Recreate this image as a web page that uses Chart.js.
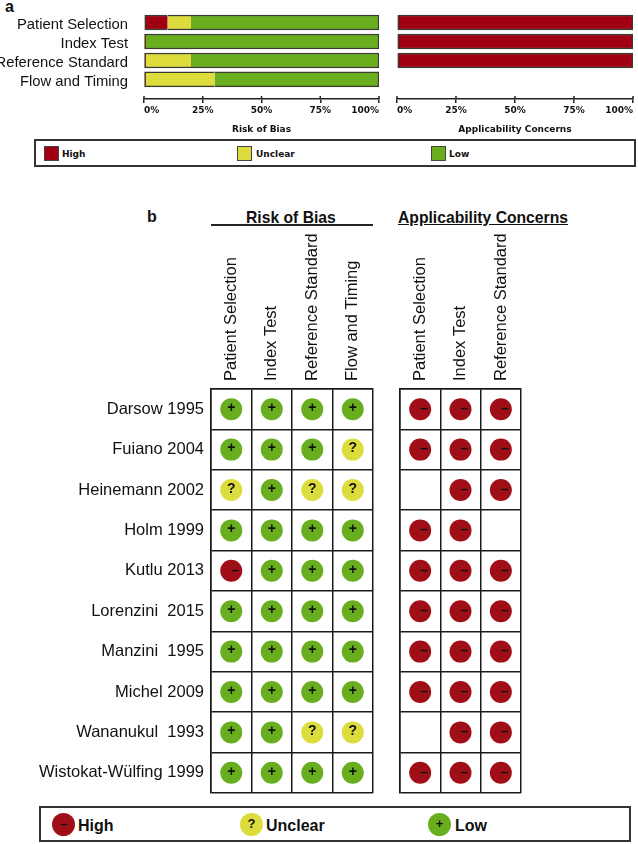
<!DOCTYPE html>
<html>
<head>
<meta charset="utf-8">
<title>Risk of bias summary</title>
<script src="https://cdn.jsdelivr.net/npm/chart.js@4/dist/chart.umd.min.js"></script>
<style>
  html, body { margin: 0; padding: 0; background: #fff; }
  #page { position: relative; width: 638px; height: 844px; overflow: hidden; font-family: "Liberation Sans", Arial, sans-serif; color: #111; }
  #page canvas { position: absolute; }
  .txt { position: absolute; white-space: pre; line-height: 1; }
  .panel { font-weight: bold; font-size: 16px; }
  .head { font-weight: bold; font-size: 15.7px; }
  .box { position: absolute; box-sizing: border-box; border: 2px solid #333; }
  .swatch { position: absolute; box-sizing: border-box; width: 15px; height: 15px; border: 1.5px solid #444; }
  .dot { position: absolute; width: 23px; height: 23px; border-radius: 50%; text-align: center; font: bold 13px/21px "Liberation Sans", Arial, sans-serif; }
  .lega { font: bold 9px "DejaVu Sans", sans-serif; }
  .legb { font: bold 16px "Liberation Sans", sans-serif; }
</style>
</head>
<body>
<div id="page">
  <div class="txt panel" style="left:5px;top:-1px">a</div>
  <canvas id="barsBias" width="385" height="137" style="left:0;top:0"></canvas>
  <canvas id="barsConcern" width="253" height="137" style="left:385px;top:0"></canvas>

  <div class="box" style="left:34px;top:139px;width:602px;height:28px"></div>
  <div class="swatch" style="left:44px;top:146px;background:#a00012"></div>
  <div class="txt lega" style="left:62px;top:149px">High</div>
  <div class="swatch" style="left:237px;top:146px;background:#dcdc3c"></div>
  <div class="txt lega" style="left:256px;top:149px">Unclear</div>
  <div class="swatch" style="left:431px;top:146px;background:#68ae1e"></div>
  <div class="txt lega" style="left:449px;top:149px">Low</div>

  <div class="txt panel" style="left:147px;top:209px">b</div>
  <div class="txt head" style="left:246px;top:210px">Risk of Bias</div>
  <div style="position:absolute;left:211px;top:224px;width:162px;height:2px;background:#222"></div>
  <div class="txt head" style="left:398px;top:210px;text-decoration:underline">Applicability Concerns</div>
  <canvas id="gridBias" width="380" height="572" style="left:0;top:228px"></canvas>
  <canvas id="gridConcern" width="258" height="572" style="left:380px;top:228px"></canvas>

  <div class="box" style="left:39px;top:806px;width:592px;height:36px"></div>
  <div class="dot" style="left:52px;top:813px;background:#a00f18;color:#111">&#8211;</div>
  <div class="txt legb" style="left:78px;top:817px">High</div>
  <div class="dot" style="left:240px;top:813px;background:#dcdc3c;color:#111">?</div>
  <div class="txt legb" style="left:266px;top:817px">Unclear</div>
  <div class="dot" style="left:428px;top:813px;background:#68ae1e;color:#111">+</div>
  <div class="txt legb" style="left:455px;top:817px">Low</div>
</div>
<script>
const domains = ["Patient Selection", "Index Test", "Reference Standard", "Flow and Timing"];
const concernDomains = ["Patient Selection", "Index Test", "Reference Standard"];
const studies = ["Darsow 1995", "Fuiano 2004", "Heinemann 2002", "Holm 1999", "Kutlu 2013",
  "Lorenzini  2015", "Manzini  1995", "Michel 2009", "Wananukul  1993", "Wistokat-Wülfing 1999"];

// percent of studies per domain
const biasHigh = [10, 0, 0, 0];
const biasUnclear = [10, 0, 20, 30];
const biasLow = [80, 100, 80, 70];
const concernHigh = [100, 100, 100];
const concernUnclear = [0, 0, 0];
const concernLow = [0, 0, 0];
const percentTicks = [0, 25, 50, 75, 100];

// one row per study, "" means the cell is blank
const biasCells = [
  ["+", "+", "+", "+"],
  ["+", "+", "+", "?"],
  ["?", "+", "?", "?"],
  ["+", "+", "+", "+"],
  ["-", "+", "+", "+"],
  ["+", "+", "+", "+"],
  ["+", "+", "+", "+"],
  ["+", "+", "+", "+"],
  ["+", "+", "?", "?"],
  ["+", "+", "+", "+"],
];
const concernCells = [
  ["-", "-", "-"],
  ["-", "-", "-"],
  ["", "-", "-"],
  ["-", "-", ""],
  ["-", "-", "-"],
  ["-", "-", "-"],
  ["-", "-", "-"],
  ["-", "-", "-"],
  ["", "-", "-"],
  ["-", "-", "-"],
];

const RED = "#a00012", YELLOW = "#dcdc3c", GREEN = "#68ae1e", EDGE = "#3b3b30";
const cellColor = { "+": GREEN, "?": YELLOW, "-": "#a00f18" };

// tick labels must not shrink the plot area
function noLabelPadding(s) {
  s.paddingLeft = s.paddingRight = s.paddingTop = s.paddingBottom = 0;
}

// tick marks cross the axis line, chart.js only draws the lower half
const tickCross = {
  id: "tickCross",
  afterDraw(chart) {
    const { ctx, scales: { x }, chartArea } = chart;
    ctx.save();
    ctx.strokeStyle = "#222";
    ctx.lineWidth = 1.5;
    x.ticks.forEach(t => {
      const px = x.getPixelForValue(t.value);
      ctx.beginPath();
      ctx.moveTo(px, chartArea.bottom - 3);
      ctx.lineTo(px, chartArea.bottom);
      ctx.stroke();
    });
    ctx.restore();
  },
};

function barChart(id, series, opts) {
  // linear index axis leaves the gap between the last bar and the axis line
  const sets = series.map(([label, values, color], s) => ({
    label,
    data: values.map((v, i) => ({ x: v, y: i })),
    backgroundColor: color,
    borderColor: EDGE,
    barThickness: 15,
    borderSkipped: false,
    borderWidth: ctx => {
      const row = series.map(r => r[1][ctx.dataIndex] || 0);
      if (!row[s]) return 0;
      const first = row.findIndex(v => v > 0);
      const last = row.length - 1 - [...row].reverse().findIndex(v => v > 0);
      return { top: 1.5, bottom: 1.5, left: s === first ? 1.5 : 0, right: s === last ? 1.5 : 0 };
    },
  }));
  return new Chart(document.getElementById(id), {
    type: "bar",
    data: { datasets: sets },
    options: {
      indexAxis: "y",
      responsive: false,
      animation: false,
      layout: { autoPadding: false, padding: { top: 13, right: opts.right, left: 0, bottom: 0 } },
      plugins: { legend: { display: false }, tooltip: { enabled: false } },
      scales: {
        x: {
          type: "linear", stacked: true, min: 0, max: 100,
          afterBuildTicks: s => { s.ticks = percentTicks.map(value => ({ value })); },
          afterFit: s => { s.height = 38; noLabelPadding(s); },
          grid: { drawOnChartArea: false, drawTicks: true, tickLength: 4, color: "#222", lineWidth: 1.5 },
          border: { display: true, color: "#222", width: 1.5 },
          ticks: {
            autoSkip: false, maxRotation: 0, align: "inner", padding: 2, color: "#111",
            font: { family: "DejaVu Sans", size: 9, weight: "bold" },
            callback: v => v + "%",
          },
          title: {
            display: true, text: opts.title, color: "#111", padding: { top: 0, bottom: 2 },
            font: { family: "DejaVu Sans", size: 9, weight: "bold" },
          },
        },
        y: {
          type: "linear", stacked: true, reverse: true, offset: false, min: -0.5, max: 4.03,
          afterBuildTicks: s => { s.ticks = opts.names.map((_, i) => ({ value: i })); },
          afterFit: s => { s.width = opts.left; noLabelPadding(s); },
          grid: { display: false },
          border: { display: false },
          ticks: {
            display: opts.showNames, autoSkip: false, padding: 8, labelOffset: 2, color: "#111",
            font: { family: "Liberation Sans", size: 14.8 },
            callback: v => opts.names[v],
          },
        },
      },
    },
    plugins: [tickCross],
  });
}

barChart("barsBias", [["High", biasHigh, RED], ["Unclear", biasUnclear, YELLOW], ["Low", biasLow, GREEN]],
  { title: "Risk of Bias", names: domains, showNames: true, left: 144, right: 6 });
barChart("barsConcern", [["High", concernHigh, RED], ["Unclear", concernUnclear, YELLOW], ["Low", concernLow, GREEN]],
  { title: "Applicability Concerns", names: domains, showNames: false, left: 12, right: 5 });

// + ? - on top of the scatter points
const cellGlyphs = {
  id: "cellGlyphs",
  afterDatasetsDraw(chart) {
    const { ctx } = chart;
    const pts = chart.getDatasetMeta(0).data;
    const raw = chart.data.datasets[0].data;
    ctx.save();
    ctx.fillStyle = "#111";
    ctx.textAlign = "center";
    ctx.textBaseline = "middle";
    ctx.font = 'bold 14px "Liberation Sans"';
    pts.forEach((p, i) => {
      const g = raw[i].mark;
      if (g === "-") ctx.fillText("–", p.x + 4, p.y);
      else ctx.fillText(g, p.x, p.y - 1);
    });
    ctx.restore();
  },
};

function gridChart(id, cols, cells, opts) {
  const points = [];
  cells.forEach((row, r) => row.forEach((mark, c) => {
    if (mark) points.push({ x: cols[c], y: studies[r], mark });
  }));
  return new Chart(document.getElementById(id), {
    type: "scatter",
    data: {
      datasets: [{
        data: points,
        pointRadius: 11,
        pointBorderWidth: 0,
        pointBackgroundColor: points.map(p => cellColor[p.mark]),
      }],
    },
    options: {
      responsive: false,
      animation: false,
      layout: { autoPadding: false, padding: { top: 0, left: 0, bottom: 7, right: opts.right } },
      plugins: { legend: { display: false }, tooltip: { enabled: false } },
      scales: {
        x: {
          type: "category", labels: cols, position: "top", offset: true,
          afterFit: s => { s.height = 161; noLabelPadding(s); },
          grid: { offset: true, color: "#1a1a1a", lineWidth: 1.5, drawTicks: false },
          border: { color: "#1a1a1a", width: 1.5 },
          ticks: {
            autoSkip: false, minRotation: 90, maxRotation: 90, padding: 8, labelOffset: 20, color: "#111",
            font: { family: "Liberation Sans", size: 16.5 },
          },
        },
        y: {
          type: "category", labels: studies, offset: true,
          afterFit: s => { s.width = opts.left; noLabelPadding(s); },
          grid: { offset: true, color: "#1a1a1a", lineWidth: 1.5, drawTicks: false },
          border: { color: "#1a1a1a", width: 1.5 },
          ticks: {
            display: opts.showNames, autoSkip: false, padding: 7, color: "#111",
            font: { family: "Liberation Sans", size: 16.5 },
          },
        },
      },
    },
    plugins: [cellGlyphs],
  });
}

gridChart("gridBias", domains, biasCells, { left: 211, right: 7, showNames: true });
gridChart("gridConcern", concernDomains, concernCells, { left: 20, right: 117, showNames: false });
</script>
</body>
</html>
